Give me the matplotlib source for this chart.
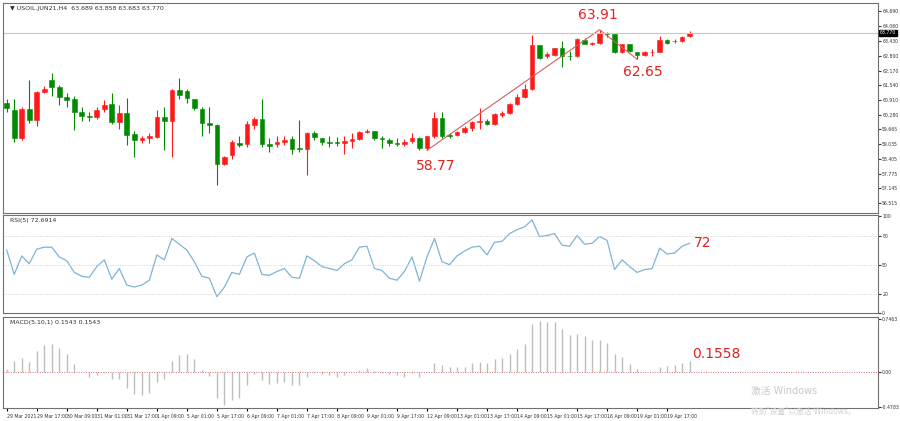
import matplotlib
matplotlib.use("Agg")
import matplotlib.pyplot as plt
import numpy as np

opens = [60.80,60.50,59.30,60.54,60.07,61.27,61.78,61.48,61.05,60.97,60.41,60.24,60.20,60.54,60.75,59.98,60.37,59.47,59.21,59.30,
         59.34,60.20,60.03,61.35,61.31,60.97,60.54,59.94,59.85,58.18,58.57,59.08,59.04,59.85,60.11,59.04,59.04,59.13,59.25,58.87,
         58.83,59.51,59.30,59.13,59.13,59.08,59.17,59.25,59.55,59.60,59.30,59.21,59.08,59.04,59.17,59.30,58.87,59.38,60.15,59.43,
         59.43,59.55,59.73,59.98,60.03,59.90,60.28,60.37,60.75,61.05,61.40,63.24,62.77,62.85,63.11,62.81,62.77,63.49,63.32,63.36,
         63.79,63.71,62.94,63.28,62.98,62.85,62.94,62.98,63.49,63.41,63.45,63.66]
closes = [60.58,59.30,60.54,60.07,61.27,61.40,61.48,61.05,60.92,60.41,60.24,60.20,60.50,60.71,59.98,60.37,59.43,59.21,59.30,59.38,
          60.20,60.03,61.35,61.14,61.01,60.58,59.94,59.85,58.18,58.48,59.13,59.00,59.90,60.11,59.04,58.96,59.13,59.21,58.83,58.83,
          59.51,59.34,59.13,59.08,59.08,59.17,59.25,59.55,59.60,59.30,59.25,59.08,59.04,59.13,59.30,58.87,59.38,60.15,59.38,59.38,
          59.55,59.73,59.98,60.03,59.90,60.32,60.37,60.75,61.05,61.40,63.24,62.72,62.89,63.11,62.81,62.77,63.53,63.32,63.36,63.79,
          63.71,62.94,63.28,63.02,62.85,62.94,62.98,63.49,63.36,63.45,63.62,63.77]
highs = [60.95,60.95,60.60,61.78,61.30,61.50,62.08,61.55,61.20,61.10,60.60,60.40,60.60,60.90,61.22,60.70,61.01,59.60,59.40,59.50,
         60.50,60.62,61.40,61.87,61.40,60.97,60.60,60.60,59.90,58.55,59.20,59.40,60.00,60.20,60.97,59.30,59.40,59.40,59.40,60.07,
         59.55,59.60,59.30,59.40,59.35,59.40,59.50,59.60,59.70,59.60,59.40,59.30,59.30,59.25,59.50,59.35,59.40,60.40,60.40,59.50,
         59.60,59.80,60.00,60.58,60.10,60.35,60.45,60.80,61.15,61.60,63.70,63.25,62.95,63.15,63.45,63.00,63.55,63.55,63.40,63.91,
         63.80,63.72,63.30,63.30,62.98,63.00,63.10,63.65,63.50,63.50,63.65,63.86]
lows = [60.40,59.13,59.20,59.95,59.80,61.20,61.10,60.70,60.60,59.64,60.00,60.00,60.10,60.40,59.90,59.70,59.00,58.48,59.10,59.10,
        59.30,58.78,58.48,60.95,60.80,60.50,59.40,59.50,57.29,58.15,58.40,58.90,58.90,59.70,58.90,58.70,58.90,59.00,58.60,58.70,
        57.71,59.20,59.00,58.90,58.95,58.60,58.85,59.20,59.50,59.20,58.85,58.95,58.95,58.95,59.10,58.80,58.77,59.30,59.30,59.30,
        59.38,59.50,59.60,59.70,59.85,59.85,60.20,60.30,60.70,61.00,61.35,62.65,62.70,62.80,62.34,62.60,62.75,63.30,63.25,63.30,
        63.60,62.90,62.90,62.98,62.65,62.80,62.80,62.94,63.30,63.35,63.40,63.60]
rsi = [65,40,59,51,66,68,68,58,54,42,38,37,48,55,35,46,29,27,29,34,
       60,55,77,71,65,53,38,36,17,27,42,40,58,62,40,39,43,46,37,36,
       59,54,48,46,44,51,55,68,69,46,44,36,34,43,58,33,58,77,53,50,
       59,64,68,69,60,73,74,82,86,89,96,79,80,82,70,69,80,71,72,79,
       75,45,55,48,42,45,46,67,61,62,69,72]
macd = [0.05,0.16,0.20,0.15,0.30,0.38,0.40,0.34,0.26,0.12,0.01,-0.06,-0.04,-0.01,-0.09,-0.09,-0.21,-0.30,-0.32,-0.29,
        -0.14,-0.09,0.16,0.24,0.25,0.18,0.04,-0.05,-0.36,-0.46,-0.38,-0.35,-0.18,-0.02,-0.11,-0.16,-0.15,-0.13,-0.17,-0.17,
        -0.07,-0.01,-0.02,-0.04,-0.06,-0.04,0.0,0.04,0.06,0.02,-0.01,-0.02,-0.04,-0.06,-0.01,-0.06,0.01,0.13,0.10,0.07,
        0.07,0.08,0.13,0.15,0.13,0.18,0.20,0.25,0.32,0.39,0.67,0.71,0.70,0.70,0.60,0.52,0.54,0.50,0.45,0.45,
        0.41,0.26,0.21,0.12,0.05,0.01,0.0,0.07,0.09,0.10,0.13,0.1558]
xlabels = ["29 Mar 2021","29 Mar 17:00","30 Mar 09:00","31 Mar 01:00","31 Mar 17:00","1 Apr 09:00","5 Apr 01:00",
           "5 Apr 17:00","6 Apr 09:00","7 Apr 01:00","7 Apr 17:00","8 Apr 09:00","9 Apr 01:00","9 Apr 17:00",
           "12 Apr 09:00","13 Apr 01:00","13 Apr 17:00","14 Apr 09:00","15 Apr 01:00","15 Apr 17:00","16 Apr 09:00",
           "19 Apr 01:00","19 Apr 17:00"]
price_ticks = [64.690,64.060,63.430,62.800,62.170,61.540,60.910,60.280,59.665,59.035,58.405,57.775,57.145,56.515]
zigzag_idx = [56, 79, 84]
zigzag_val = [58.77, 63.91, 62.65]

plt.rcParams['font.family'] = ['DejaVu Sans', 'Noto Sans CJK SC']
fig = plt.figure(figsize=(9, 4.21), dpi=100)
L, R = 3/900, 878/900
ax1 = fig.add_axes([L, 0.494, R-L, 0.499])
ax2 = fig.add_axes([L, 0.256, R-L, 0.233])
ax3 = fig.add_axes([L, 0.03, R-L, 0.217])
n = len(closes)
x = np.arange(n)
xmax = 116.1
RED, GREEN, TXT = '#ff1a1a', '#008a00', '#333333'

for i in x:
    o, c = opens[i], closes[i]
    col = RED if c > o else (GREEN if c < o else '#888888')
    ax1.vlines(i, lows[i], highs[i], color=col, lw=0.8)
    ax1.bar(i, max(abs(c-o), 0.03), bottom=min(o, c), width=0.62, color=col, edgecolor=col, lw=0.4)
ax1.plot(zigzag_idx, zigzag_val, color='#d06060', lw=0.8)
ax1.axhline(closes[-1], color='#c8c8c8', lw=0.8)
ax1.text(57.2, 57.95, "58.77", color='#e0231f', fontsize=10, ha='center')
ax1.text(78.8, 64.35, "63.91", color='#e0231f', fontsize=10, ha='center')
ax1.text(84.8, 61.95, "62.65", color='#e0231f', fontsize=10, ha='center')
ax1.set_ylim(56.1, 65.05)
ax1.set_yticks(price_ticks)
ax1.set_yticklabels([f"{v:.3f}" for v in price_ticks])
ax1.text(0.008, 0.985, "▼ USOIL.JUN21,H4  63.689 63.858 63.683 63.770", transform=ax1.transAxes,
         fontsize=4.5, va='top', color=TXT)
ax1.text(1.002, closes[-1], "63.770", transform=ax1.get_yaxis_transform(), fontsize=3.3, color='white',
         va='center', ha='left', bbox=dict(boxstyle='square,pad=0.15', fc='black', ec='black'))

ax2.plot(x, rsi, color='#7fb3d5', lw=0.9)
for lv in [80, 50, 20]:
    ax2.axhline(lv, color='#d0d0d0', lw=0.7, ls=(0, (1, 1.5)))
ax2.set_ylim(2, 101)
ax2.set_yticks([100, 80, 50, 20, 0])
ax2.text(0.008, 0.97, "RSI(5) 72.6914", transform=ax2.transAxes, fontsize=4.5, va='top', color=TXT)
ax2.text(91.6, 72, "72", color='#e0231f', fontsize=10, va='center')

ax3.vlines(x, 0, macd, color='#bdbdbd', lw=1.0)
ax3.axhline(0, color='#d07070', lw=0.7, ls=(0, (1, 1.5)))
ax3.set_ylim(-0.50, 0.77)
ax3.set_yticks([0.7463, 0.0, -0.4783])
ax3.set_yticklabels(["0.7463", "0.00", "-0.4783"])
ax3.text(0.008, 0.97, "MACD(5,10,1) 0.1543 0.1543", transform=ax3.transAxes, fontsize=4.5, va='top', color=TXT)
ax3.text(91.3, 0.26, "0.1558", color='#e0231f', fontsize=10, va='center')
ax3.set_xticks(np.arange(0, 4*len(xlabels), 4))
ax3.set_xticklabels(xlabels, fontsize=3.3, ha='left', color=TXT)
ax3.tick_params(axis='x', length=2, pad=2)
ax3.text(0.855, 0.16, "激活 Windows", transform=ax3.transAxes, fontsize=7, color='#c8c8c8')
ax3.text(0.855, -0.06, "转到\"设置\"以激活 Windows。", transform=ax3.transAxes, fontsize=5.5, color='#d0d0d0')

for ax in (ax1, ax2, ax3):
    ax.set_xlim(-0.5, xmax)
    ax.yaxis.tick_right()
    ax.tick_params(axis='y', labelsize=3.3, length=2, pad=1, colors=TXT)
    for s in ax.spines.values():
        s.set_color('#707070'); s.set_linewidth(0.8)
for ax in (ax1, ax2):
    ax.set_xticks([])

fig.savefig("out.png", dpi=100, facecolor='white')
